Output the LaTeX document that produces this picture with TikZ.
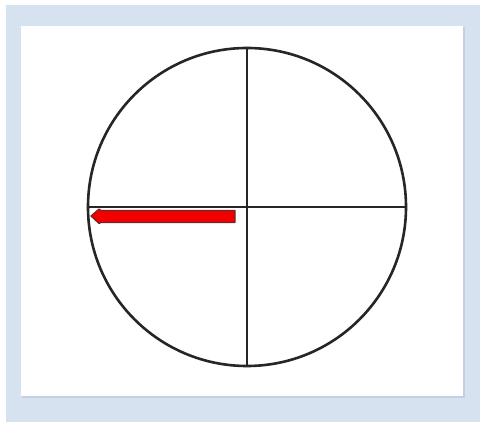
\documentclass[tikz,border=0pt]{standalone}
\usetikzlibrary{calc}
\begin{document}
\begin{tikzpicture}[x=1pt,y=-1pt,
  geo/.style={draw=black!85,line width=2.6pt},
  redarrow/.style={fill=red!95!black,draw=red!35!black!85,line width=1.2pt,line join=round}]
\useasboundingbox (0,0) rectangle (480,422);
\fill[white] (0,0) rectangle (480,422);
\fill[color={rgb,255:red,214;green,226;blue,240}] (6,5) rectangle (480,422);
\fill[color={rgb,255:red,196;green,208;blue,224}] (22,27) rectangle (465,398);
\fill[white] (21,26) rectangle (463,396);
\coordinate (c) at (247,207);
\draw[geo] (c) circle (159);
\draw[geo] ($(c)+(0,-160)$) -- ($(c)+(0,160)$);
\draw[geo] ($(c)+(-160,0)$) -- ($(c)+(160,0)$);
\draw[redarrow] (235,210.5) -- (101,210.5) -- (99,209) -- (91,216) -- (99,223.5) -- (101,222.5) -- (235,222.5) -- cycle;
\end{tikzpicture}
\end{document}
